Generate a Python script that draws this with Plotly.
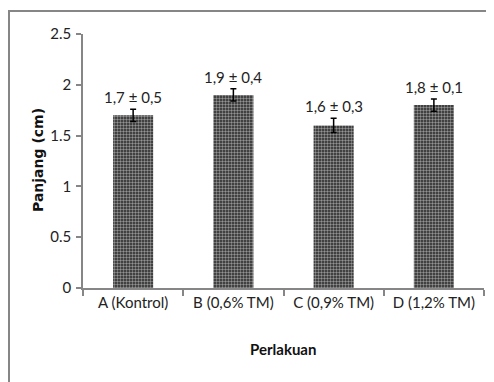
import plotly.graph_objects as go

categories = ["A (Kontrol)", "B (0,6% TM)", "C (0,9% TM)", "D (1,2% TM)"]
values = [1.7, 1.9, 1.6, 1.8]
errors = [0.06, 0.06, 0.07, 0.06]
labels = ["1,7 ± 0,5", "1,9 ± 0,4", "1,6 ± 0,3", "1,8 ± 0,1"]
y_ticks = [0, 0.5, 1, 1.5, 2, 2.5]
y_tick_text = ["0", "0.5", "1", "1.5", "2", "2.5"]

W, H = 494, 382
OFF = 8  # page body margin
L, R, T, B = 83 - OFF, 494 - (484 - OFF), 34 - OFF, 382 - (288 - OFF)
pw, ph = W - L - R, H - T - B

font_main = "Lato, Noto Sans, sans-serif"
grey = "#868686"

fig = go.Figure()
fig.add_trace(go.Bar(
    x=categories, y=values, width=0.4,
    marker=dict(color="#2a2a2a", line=dict(width=0),
                pattern=dict(shape=".", bgcolor="#262626", fgcolor="#ffffff",
                             size=3, solidity=0.5, fillmode="overlay")),
    error_y=dict(type="data", array=errors, visible=True, color="black",
                 thickness=1.5, width=3),
    hoverinfo="skip",
))

for c, v, e, t in zip(categories, values, errors, labels):
    fig.add_annotation(x=c, y=v + e, text=t, showarrow=False, yanchor="bottom",
                       yshift=1, font=dict(family=font_main, size=15, color="#222"))

def px_x(p):
    return (p - OFF - L) / pw

def px_y(p):
    return (H - B - (p - OFF)) / ph

fig.add_annotation(xref="paper", yref="paper", x=px_x(38), y=px_y(160),
                   xanchor="center", yanchor="middle",
                   text="<b>Panjang (cm)</b>", textangle=-90, showarrow=False,
                   font=dict(family="DejaVu Sans", size=14, color="#111"))
fig.add_annotation(xref="paper", yref="paper", x=px_x(283), y=px_y(349),
                   xanchor="center", yanchor="middle",
                   text="<b>Perlakuan</b>", showarrow=False,
                   font=dict(family=font_main, size=15, color="#111"))

fig.add_shape(type="rect", xref="paper", yref="paper",
              x0=px_x(9), y0=px_y(400), x1=px_x(520), y1=px_y(11),
              line=dict(color=grey, width=2), layer="below")

fig.update_layout(
    width=W, height=H,
    margin=dict(l=L, r=R, t=T, b=B, autoexpand=False),
    paper_bgcolor="white", plot_bgcolor="white",
    showlegend=False,
    bargap=0.6,
    font=dict(family=font_main, size=15, color="#222"),
)
fig.update_xaxes(showline=True, linecolor=grey, linewidth=1.5,
                 ticks="outside", tickson="boundaries", ticklen=6,
                 tickcolor=grey, tickwidth=1.5, showgrid=False, automargin=False,
                 tickfont=dict(family=font_main, size=15, color="#222"))
fig.update_yaxes(range=[0, 2.5], tickvals=y_ticks, ticktext=y_tick_text,
                 showline=True, linecolor=grey, linewidth=1.5,
                 ticks="outside", ticklen=5, tickcolor=grey, tickwidth=1.5,
                 ticklabelstandoff=2,
                 showgrid=False, zeroline=False, automargin=False,
                 tickfont=dict(family=font_main, size=15, color="#222"))

fig.write_html("out.html")
